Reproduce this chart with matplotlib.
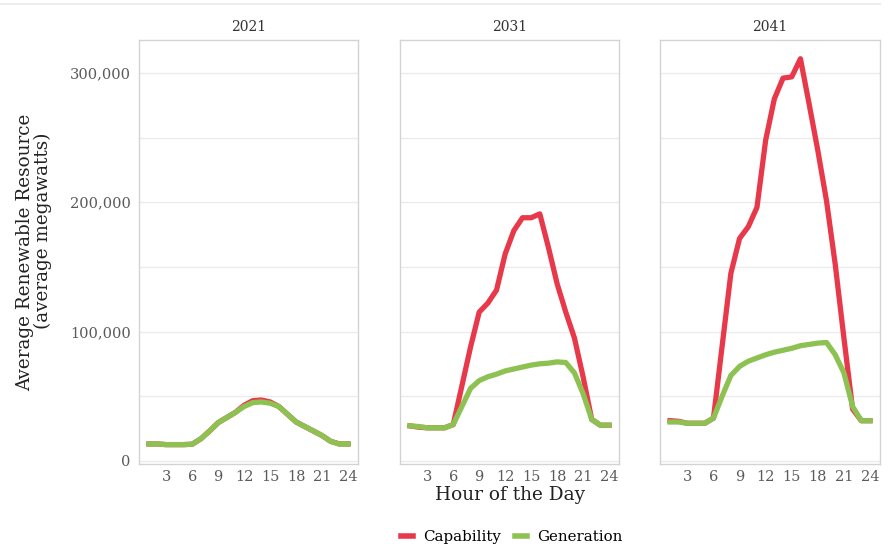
import matplotlib
matplotlib.use("Agg")
import matplotlib.pyplot as plt
from matplotlib.lines import Line2D
from matplotlib.ticker import FuncFormatter, MultipleLocator

hours = list(range(1, 25))
years = ["2021", "2031", "2041"]

cap_2021 = [13000, 13000, 12500, 12500, 12500, 12800, 17000, 23000, 29500, 33500, 37500, 43000,
            46500, 47000, 45500, 42000, 36000, 30000, 26500, 23000, 19500, 15000, 13000, 13000]
gen_2021 = [13000, 13000, 12500, 12500, 12500, 12800, 17000, 23000, 29500, 33500, 37500, 42000,
            45000, 45500, 44500, 42000, 36000, 30000, 26500, 23000, 19500, 15000, 13000, 13000]

cap_2031 = [27000, 26000, 25500, 25500, 25500, 28000, 58000, 88000, 115000, 122000, 132000, 160000,
            178000, 188000, 188000, 191000, 165000, 137000, 115000, 95000, 65000, 32000, 27500, 27500]
gen_2031 = [27000, 26500, 25500, 25500, 25500, 28000, 42000, 56000, 62000, 65000, 67000, 69500,
            71000, 72500, 74000, 75000, 75500, 76500, 76000, 68000, 52000, 32000, 27500, 27500]

cap_2041 = [31000, 30500, 29000, 29000, 29000, 33000, 89000, 145000, 172000, 181000, 196000, 248000,
            280000, 296000, 297000, 311000, 276000, 240000, 201000, 152000, 95000, 40000, 31000, 31000]
gen_2041 = [30000, 30000, 29000, 29000, 29000, 33000, 50000, 66000, 73000, 77000, 79500, 82000,
            84000, 85500, 87000, 89000, 90000, 91000, 91500, 82000, 68000, 42000, 31000, 31000]

capability = [cap_2021, cap_2031, cap_2041]
generation = [gen_2021, gen_2031, gen_2041]

x_ticks = [3, 6, 9, 12, 15, 18, 21, 24]
y_ticks = [0, 100000, 200000, 300000]

RED = "#E8394A"
GREEN = "#8DC253"
SERIF = ["DejaVu Serif"]

W, H = 891, 549
fig = plt.figure(figsize=(W / 100, H / 100), dpi=100)
fig.patch.set_facecolor("white")

panels = [(139, 358), (400, 619), (660, 880)]
top, bottom = 40, 464

fig.add_artist(Line2D([0, 880 / W], [1 - 4 / H, 1 - 4 / H], color="#EDEDED", lw=1.5,
                      transform=fig.transFigure))

for i, (x0, x1) in enumerate(panels):
    ax = fig.add_axes([x0 / W, 1 - bottom / H, (x1 - x0) / W, (bottom - top) / H])
    ax.set_xlim(-0.15, 25.15)
    ax.set_ylim(-2500, 325500)
    ax.yaxis.set_major_locator(MultipleLocator(100000))
    ax.yaxis.set_minor_locator(MultipleLocator(50000))
    ax.grid(True, which="both", axis="y", color="#EBEBEB", lw=1.0)
    ax.grid(False, axis="x")
    ax.set_axisbelow(True)
    for s in ax.spines.values():
        s.set_color("#D3D3D3")
        s.set_linewidth(1.0)
    ax.plot(hours, capability[i], color=RED, lw=3.8, solid_joinstyle="round", zorder=3)
    ax.plot(hours, generation[i], color=GREEN, lw=3.8, solid_joinstyle="round", zorder=4)
    ax.set_xticks(x_ticks)
    ax.set_xticklabels([str(t) for t in x_ticks], family=SERIF, fontsize=10.5, color="#5A5A5A")
    ax.tick_params(axis="both", which="both", length=0, pad=4)
    if i == 0:
        ax.set_yticks(y_ticks)
        ax.yaxis.set_major_formatter(FuncFormatter(lambda v, p: f"{int(v):,}"))
        for lab in ax.get_yticklabels():
            lab.set_family(SERIF)
            lab.set_fontsize(10.5)
            lab.set_color("#5A5A5A")
        ax.tick_params(axis="y", pad=6)
    else:
        ax.tick_params(axis="y", labelleft=False)
    fig.text((x0 + x1) / 2 / W, 1 - 27 / H, years[i], ha="center", va="center",
             family=SERIF, fontsize=10, color="#333333")

fig.text(25 / W, 1 - 252 / H, "Average Renewable Resource", rotation=90, ha="center", va="center",
         family=SERIF, fontsize=13.2, color="#222222")
fig.text(43 / W, 1 - 231 / H, "(average megawatts)", rotation=90, ha="center", va="center",
         family=SERIF, fontsize=13.2, color="#222222")
fig.text(510 / W, 1 - 495 / H, "Hour of the Day", ha="center", va="center",
         family=SERIF, fontsize=13.3, color="#222222")

handles = [Line2D([], [], color=RED, lw=4), Line2D([], [], color=GREEN, lw=4)]
fig.legend(handles, ["Capability", "Generation"], loc="center",
           bbox_to_anchor=(512 / W, 1 - 537 / H), ncol=2, frameon=False,
           handlelength=0.8, handletextpad=0.7, columnspacing=0.9,
           prop={"family": SERIF, "size": 10.8})

fig.savefig("out.png", dpi=100, facecolor="white")
